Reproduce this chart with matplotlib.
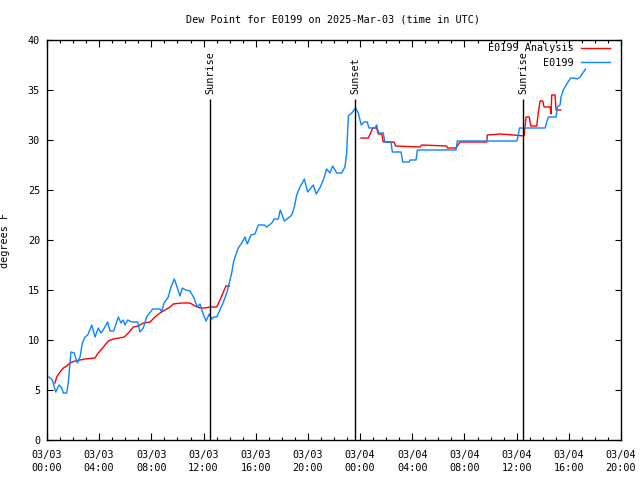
import numpy as np
import matplotlib
matplotlib.use("Agg")
import matplotlib.pyplot as plt
from matplotlib.ticker import MultipleLocator

# ---- data (hours since 2025-03-03 00:00 UTC) ----
obs_hours = [0.15, 0.41, 0.67, 0.92, 1.13, 1.25, 1.51, 1.63, 1.84, 2.09, 2.32, 2.53, 2.71, 2.91,
             3.12, 3.43, 3.68, 3.93, 4.14, 4.35, 4.65, 4.83, 5.11, 5.47, 5.67, 5.83, 5.98, 6.19,
             6.49, 6.95, 7.13, 7.38, 7.64, 8.10, 8.66, 8.79, 8.97, 9.30, 9.48, 9.76, 9.99, 10.20,
             10.37, 10.63, 10.96, 11.27, 11.52, 11.73, 11.94, 12.19, 12.44, 12.63, 12.80, 13.01,
             13.26, 13.52, 13.78, 13.97, 14.16, 14.28, 14.47, 14.66, 14.93, 15.18, 15.35, 15.64,
             15.94, 16.20, 16.66, 16.84, 17.23, 17.42, 17.73, 17.88, 18.19, 18.50, 18.76, 18.96,
             19.14, 19.39, 19.57, 19.72, 19.98, 20.16, 20.41, 20.64, 20.95, 21.18, 21.44, 21.69,
             21.90, 22.21, 22.59, 22.84, 22.97, 23.10, 23.36, 23.66, 23.86, 24.09, 24.30, 24.55,
             24.68, 25.14, 25.27, 25.41, 25.78, 25.89, 26.37, 26.47, 27.14, 27.27, 27.77, 27.83,
             28.29, 28.39, 31.35, 31.45, 36.01, 36.13, 36.22, 38.18, 38.31, 38.43, 39.02, 39.12,
             39.33, 39.40, 39.58, 39.84, 40.15, 40.35, 40.65, 40.86, 41.28]
obs_values = [6.3, 6.0, 4.8, 5.5, 5.2, 4.7, 4.7, 5.7, 8.8, 8.7, 7.7, 8.3, 9.7, 10.3,
              10.5, 11.5, 10.3, 11.2, 10.7, 11.1, 11.8, 10.9, 10.9, 12.3, 11.7, 12.0, 11.5, 12.0,
              11.8, 11.8, 10.8, 11.2, 12.3, 13.1, 13.1, 12.8, 13.7, 14.3, 15.2, 16.1, 15.2, 14.4,
              15.2, 15.0, 14.9, 14.2, 13.3, 13.6, 12.7, 11.9, 12.6, 12.1, 12.3, 12.3,
              13.0, 13.8, 14.7, 15.7, 16.7, 17.7, 18.5, 19.2, 19.7, 20.3, 19.6, 20.5,
              20.6, 21.5, 21.5, 21.3, 21.7, 22.1, 22.1, 23.0, 21.9, 22.2, 22.5, 23.3,
              24.5, 25.3, 25.7, 26.1, 24.8, 25.1, 25.5, 24.6, 25.3, 26.0, 27.1, 26.7,
              27.4, 26.7, 26.7, 27.3, 28.7, 32.4, 32.7, 33.2, 32.7, 31.5, 31.8, 31.8,
              31.2, 31.2, 31.5, 30.7, 30.7, 29.8, 29.8, 28.8, 28.8, 27.8, 27.8, 28.0,
              28.0, 29.0, 29.0, 29.9, 29.9, 30.5, 31.2, 31.2, 31.8, 32.3, 32.3, 33.3,
              33.5, 34.3, 35.0, 35.6, 36.2, 36.2, 36.1, 36.3, 37.1]

ana_hours = [0.61, 0.74, 1.00, 1.25, 1.51, 1.76, 2.15, 2.53, 2.91, 3.68, 3.93, 4.32, 4.70, 5.08,
             5.52, 5.93, 6.23, 6.62, 7.00, 7.38, 7.90, 8.28, 8.66, 9.05, 9.43, 9.68, 10.33, 10.96,
             11.35, 11.73, 12.11, 12.50, 13.01, 13.26, 13.52, 13.72, 13.97, 19.0,
             24.07, 24.63, 24.81, 24.97, 25.27, 25.40, 25.66, 25.78, 26.60, 26.73, 28.59, 28.72,
             30.64, 30.69, 31.35, 31.66, 33.71, 33.75, 34.78, 35.75, 36.57, 36.72, 36.97, 37.08,
             37.54, 37.66, 37.79, 38.00, 38.10, 38.56, 38.64, 38.69, 38.94, 39.02, 39.38]
ana_values = [5.7, 6.3, 6.8, 7.2, 7.4, 7.7, 7.9, 8.0, 8.1, 8.2, 8.7, 9.3, 9.9, 10.1,
              10.2, 10.3, 10.7, 11.3, 11.4, 11.7, 11.8, 12.3, 12.7, 13.0, 13.3, 13.6, 13.7, 13.7,
              13.4, 13.2, 13.2, 13.3, 13.3, 14.0, 14.8, 15.4, 15.4, np.nan,
              30.2, 30.2, 30.7, 31.2, 31.2, 30.6, 30.6, 29.8, 29.8, 29.4, 29.3, 29.5,
              29.4, 29.2, 29.2, 29.8, 29.8, 30.5, 30.6, 30.5, 30.4, 32.3, 32.3, 31.4,
              31.4, 32.7, 33.9, 33.9, 33.3, 33.3, 32.6, 34.5, 34.5, 33.0, 33.0]

event_hours = [12.53, 23.63, 36.51]
event_labels = ["Sunrise", "Sunset", "Sunrise"]
event_top = 34.1

tick_hours = [0, 4, 8, 12, 16, 20, 24, 28, 32, 36, 40, 44]
tick_labels = ["03/03\n00:00", "03/03\n04:00", "03/03\n08:00", "03/03\n12:00",
               "03/03\n16:00", "03/03\n20:00", "03/04\n00:00", "03/04\n04:00",
               "03/04\n08:00", "03/04\n12:00", "03/04\n16:00", "03/04\n20:00"]

title = "Dew Point for E0199 on 2025-Mar-03 (time in UTC)"

# ---- plot ----
FONT = "DejaVu Sans Mono"
FS = 7.3
plt.rcParams['font.family'] = [FONT]
plt.rcParams['font.size'] = FS

fig = plt.figure(figsize=(6.4, 4.8), dpi=100)
ax = fig.add_axes([47/640, 1 - 440/480, 574/640, 400/480])

ax.plot(ana_hours, ana_values, color='#ff0000', lw=1.0, label='E0199 Analysis')
ax.plot(obs_hours, obs_values, color='#0a84ff', lw=1.0, label='E0199')

for h, lab in zip(event_hours, event_labels):
    ax.vlines(h, 0, event_top, color='black', lw=1.0)
    ax.text(h, event_top + 0.45, lab, rotation=90, ha='center', va='bottom',
            fontsize=FS, family=FONT)

ax.set_xlim(0, 44)
ax.set_ylim(0, 40)
ax.set_xticks(tick_hours)
labels = ax.set_xticklabels(tick_labels)
for l in labels:
    l.set_linespacing(1.45)
ax.xaxis.set_minor_locator(MultipleLocator(1))
ax.set_yticks(np.arange(0, 41, 5))

ax.tick_params(axis='both', which='both', direction='in', top=True, right=True,
               colors='black', labelsize=FS)
ax.tick_params(axis='x', which='major', length=5, width=0.8, pad=7)
ax.tick_params(axis='x', which='minor', length=2.5, width=0.8)
ax.tick_params(axis='y', which='major', length=4, width=0.8, pad=5)
for s in ax.spines.values():
    s.set_linewidth(1.0)
    s.set_color('black')

ax.set_ylabel("degrees F", fontsize=FS)
ax.yaxis.set_label_coords((10 - 47) / 574, 0.5)
fig.text(333/640, 1 - 20/480, title, ha='center', va='center', fontsize=FS)

handles, labs = ax.get_legend_handles_labels()
leg = ax.legend(handles, labs, loc='upper right', frameon=False, markerfirst=False,
                bbox_to_anchor=((614 - 47) / 574, (440 - 39) / 400),
                handlelength=2.9, handletextpad=0.7, labelspacing=0.45,
                borderaxespad=0.0, fontsize=FS)

fig.savefig("out.png", dpi=100)
